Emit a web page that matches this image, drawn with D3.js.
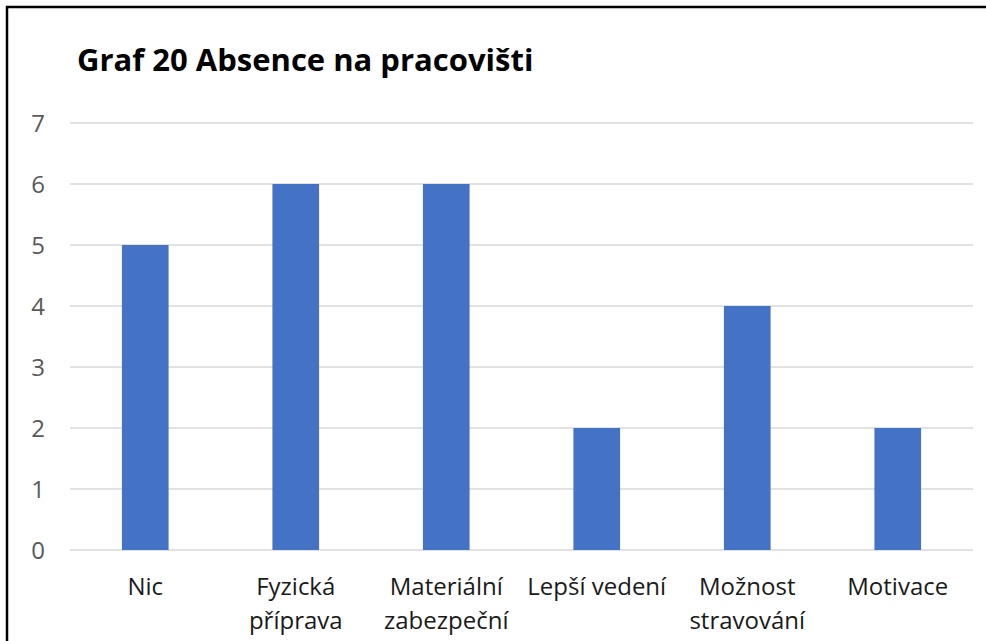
<!DOCTYPE html>
<html>
<head>
<meta charset="utf-8">
<script src="https://cdn.jsdelivr.net/npm/d3@7"></script>
<style>
  body { margin: 0; background: #fff; }
  svg { display: block; font-family: "Open Sans", sans-serif; }
</style>
</head>
<body>
<script>
// chart data
var categories = [["Nic"], ["Fyzická", "příprava"], ["Materiální", "zabezpeční"], ["Lepší vedení"], ["Možnost", "stravování"], ["Motivace"]];
var values = [5, 6, 6, 2, 4, 2];
var yTicks = [0, 1, 2, 3, 4, 5, 6, 7];
var title = "Graf 20 Absence na pracovišti";

var width = 986, height = 641;
var margin = {top: 123, right: 13, bottom: 91, left: 70};

var svg = d3.select("body").append("svg")
    .attr("width", width)
    .attr("height", height);

svg.append("rect")
    .attr("width", width).attr("height", height)
    .attr("fill", "#fff");

// outer frame (right and bottom edges fall outside the picture)
svg.append("rect")
    .attr("x", 7).attr("y", 7)
    .attr("width", width + 20).attr("height", height + 20)
    .attr("fill", "none")
    .attr("stroke", "#000")
    .attr("stroke-width", 2.5);

svg.append("text")
    .attr("x", 77).attr("y", 71)
    .attr("font-size", 31)
    .attr("font-weight", "bold")
    .attr("fill", "#000")
    .text(title);

var x = d3.scaleBand()
    .domain(categories.map(function(d){ return d.join(" "); }))
    .range([margin.left, width - margin.right])
    .paddingInner(0.69)
    .paddingOuter(0.345);

var y = d3.scaleLinear()
    .domain([0, 7])
    .range([height - margin.bottom, margin.top]);

// gridlines
svg.append("g")
    .selectAll("line")
    .data(yTicks)
    .enter()
    .append("line")
    .attr("x1", margin.left)
    .attr("x2", width - margin.right)
    .attr("y1", function(d){ return y(d); })
    .attr("y2", function(d){ return y(d); })
    .attr("stroke", "#d9d9d9")
    .attr("stroke-width", 1.5);

// y tick labels
svg.append("g")
    .selectAll("text")
    .data(yTicks)
    .enter()
    .append("text")
    .attr("x", 45)
    .attr("y", function(d){ return y(d); })
    .attr("dy", "0.36em")
    .attr("text-anchor", "end")
    .attr("font-size", 24)
    .attr("fill", "#595959")
    .text(function(d){ return d; });

// bars
svg.append("g")
    .selectAll("rect")
    .data(values)
    .enter()
    .append("rect")
    .attr("x", function(d, i){ return x(categories[i].join(" ")); })
    .attr("width", x.bandwidth())
    .attr("y", function(d){ return y(d); })
    .attr("height", function(d){ return y(0) - y(d); })
    .attr("fill", "#4472c4");

// category labels
var labels = svg.append("g")
    .selectAll("text")
    .data(categories)
    .enter()
    .append("text")
    .attr("x", function(d){ return x(d.join(" ")) + x.bandwidth() / 2; })
    .attr("y", 595)
    .attr("text-anchor", "middle")
    .attr("font-size", 24)
    .attr("fill", "#1a1a1a");

labels.selectAll("tspan")
    .data(function(d){ return d; })
    .enter()
    .append("tspan")
    .attr("x", function(){ return d3.select(this.parentNode).attr("x"); })
    .attr("dy", function(d, i){ return i ? 34 : 0; })
    .text(function(d){ return d; });
</script>
</body>
</html>
